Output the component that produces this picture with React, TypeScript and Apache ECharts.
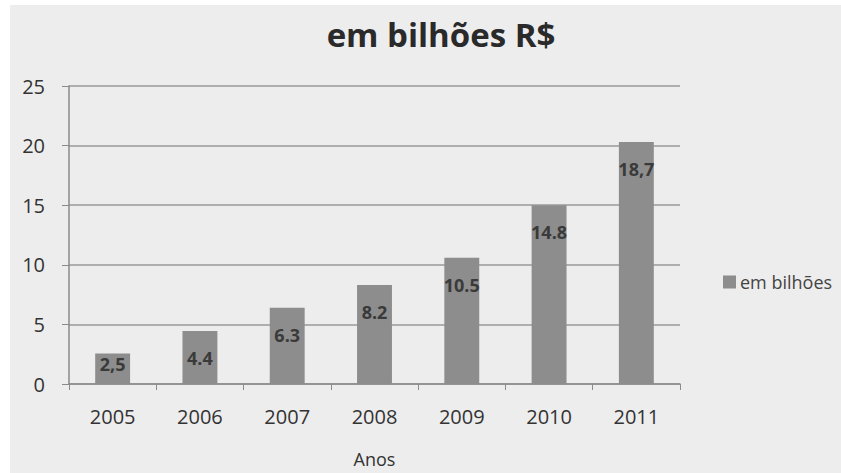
import React, { useEffect, useRef } from "react";
import * as echarts from "echarts";

const categories = ["2005", "2006", "2007", "2008", "2009", "2010", "2011"];
const barValues = [2.55, 4.45, 6.4, 8.3, 10.6, 15.0, 20.3];
const labelTexts = ["2,5", "4.4", "6.3", "8.2", "10.5", "14.8", "18,7"];
const yTicks = [0, 5, 10, 15, 20, 25];

export default function App() {
  const ref = useRef<HTMLDivElement>(null);
  useEffect(() => {
    if (!ref.current) return;
    const chart = echarts.init(ref.current, null, { renderer: "svg" });
    const font = "'Open Sans', 'Noto Sans', sans-serif";
    chart.setOption({
      animation: false,
      backgroundColor: "#ededed",
      textStyle: { fontFamily: font },
      title: {
        text: "em bilhões R$",
        left: 426,
        textAlign: "center",
        top: 8,
        textStyle: { fontSize: 33, fontWeight: "bold", color: "#2a2a2a", fontFamily: font },
      },
      legend: {
        data: ["em bilhões"],
        left: 708,
        top: 263,
        orient: "vertical",
        icon: "rect",
        itemWidth: 13,
        itemHeight: 13,
        itemGap: 6,
        textStyle: { fontSize: 18, color: "#444", fontFamily: font, padding: [0, 0, 0, -1] },
      },
      grid: { left: 59, right: 161, top: 81, bottom: 83, containLabel: false },
      xAxis: {
        type: "category",
        data: categories,
        name: "Anos",
        nameLocation: "middle",
        nameGap: 66,
        nameTextStyle: { fontSize: 18, color: "#333", fontFamily: font },
        axisLine: { lineStyle: { color: "#8a8a8a", width: 1.5 } },
        axisTick: { show: true, length: 6, lineStyle: { color: "#8a8a8a" } },
        axisLabel: { fontSize: 20, color: "#333", margin: 22 },
      },
      yAxis: {
        type: "value",
        min: 0,
        max: yTicks[yTicks.length - 1],
        interval: 5,
        axisLine: { show: true, lineStyle: { color: "#8a8a8a", width: 1.5 } },
        axisTick: { show: true, length: 7, lineStyle: { color: "#8a8a8a" } },
        axisLabel: { fontSize: 20, color: "#333", margin: 24 },
        splitLine: { lineStyle: { color: "#999", width: 1.5 } },
      },
      series: [
        {
          name: "em bilhões",
          type: "bar",
          barWidth: "40%",
          itemStyle: { color: "#8d8d8d" },
          data: barValues.map((v, i) => ({
            value: v,
            label: i === 0 ? { position: "insideTop", distance: 1 } : undefined,
          })),
          label: {
            show: true,
            position: "insideTop",
            distance: 18,
            fontSize: 18,
            fontWeight: "bold",
            color: "#3a3a3a",
            formatter: (p: any) => labelTexts[p.dataIndex],
          },
        },
      ],
    });
    return () => chart.dispose();
  }, []);
  return (
    <div
      ref={ref}
      style={{ position: "absolute", left: 10, top: 5, width: 831, height: 468 }}
    />
  );
}
